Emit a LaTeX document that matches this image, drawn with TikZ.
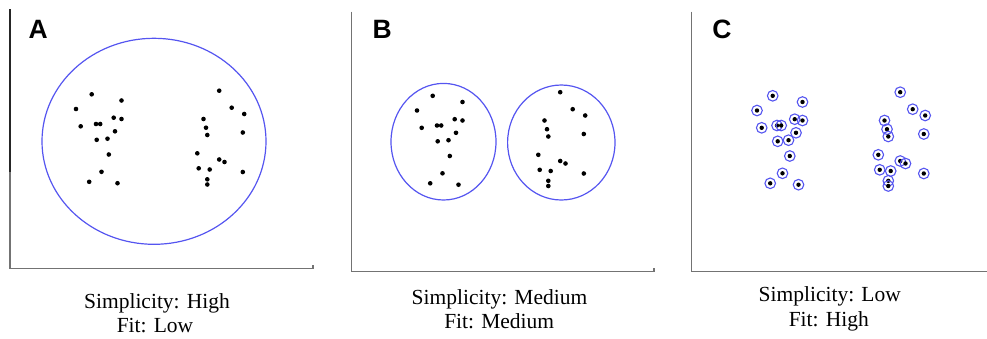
\documentclass[tikz,border=0pt]{standalone}
\usepackage{fontspec}
\setmainfont{Liberation Serif}
\newfontfamily\letterfont{Liberation Sans}
\definecolor{ellblue}{RGB}{85,85,240}
\definecolor{axgray}{RGB}{115,115,115}
\begin{document}
\begin{tikzpicture}[x=1pt,y=-1pt,
  axisline/.style={draw=axgray,line width=1.6pt},
  axisdark/.style={draw=black!85,line width=1.6pt},
  clusterell/.style={draw=ellblue,line width=1.2pt},
  ringstyle/.style={draw=ellblue,line width=1.1pt},
  panelletter/.style={inner sep=0pt,font=\letterfont\bfseries\fontsize{26.5}{30}\selectfont},
  caption/.style={anchor=base,inner sep=0pt,font=\fontsize{21.5}{24}\selectfont}]
\useasboundingbox (0,0) rectangle (987,338);
\def\ptsA{(76,109),(91.7,94.3),(121.5,100.5),(80.7,126.3),(96,124),(100.2,124),(113.7,117.7),(121.5,119),(115,131.3),(96.7,139.8),(107.5,138.7),(108.8,154.5),(101.5,171.8),(89.2,181.8),(117.5,183.2),(219.2,90.7),(231.7,107.7),(244.2,114),(203.5,119),(206,127.7),(207.3,135),(242.8,132.5),(197.3,153.3),(219.2,159.5),(224.5,162),(198.7,168.3),(209.7,169.5),(242.8,172),(207.3,179.3),(207.3,184.5)}
% ---------- Panel A ----------
\draw[axisdark] (10,9) -- (10,172);
\draw[axisline] (10,172) -- (10,268.3) -- (312.7,268.3) -- (312.7,265.3);
\node[panelletter] (letA) at (38.3,29.7) {A};
\draw[clusterell] (154,141.3) ellipse [x radius=112, y radius=103];
\foreach \p in \ptsA { \fill \p circle (2.3pt); }
\node[caption] (simpA) at (157,308.3) {Simplicity: High};
\node[caption] (fitA) at (155,332.3) {Fit: Low};
% ---------- Panel B ----------
\draw[axisline] (351.3,11.7) -- (351.3,271.5) -- (654,271.5) -- (654,268.3);
\node[panelletter] (letB) at (382.3,29.5) {B};
\draw[clusterell] (443.5,141.7) ellipse [x radius=52.5, y radius=58.3];
\draw[clusterell] (561.3,142.5) ellipse [x radius=53.7, y radius=57.5];
\begin{scope}[shift={(341,1.5)}]
\foreach \p in \ptsA { \fill \p circle (2.3pt); }
\end{scope}
\node[caption] (simpB) at (499.5,304) {Simplicity: Medium};
\node[caption] (fitB) at (499.2,328.3) {Fit: Medium};
% ---------- Panel C ----------
\draw[axisline] (691.3,11.7) -- (691.3,271.5) -- (987,271.5);
\node[panelletter] (letC) at (722,29.5) {C};
\begin{scope}[shift={(681,1.5)}]
\foreach \p in \ptsA { \fill \p circle (2.2pt); \draw[ringstyle] \p circle (5.3pt); }
\end{scope}
\node[caption] (simpC) at (829.8,301) {Simplicity: Low};
\node[caption] (fitC) at (828.8,326.7) {Fit: High};
\end{tikzpicture}
\end{document}
